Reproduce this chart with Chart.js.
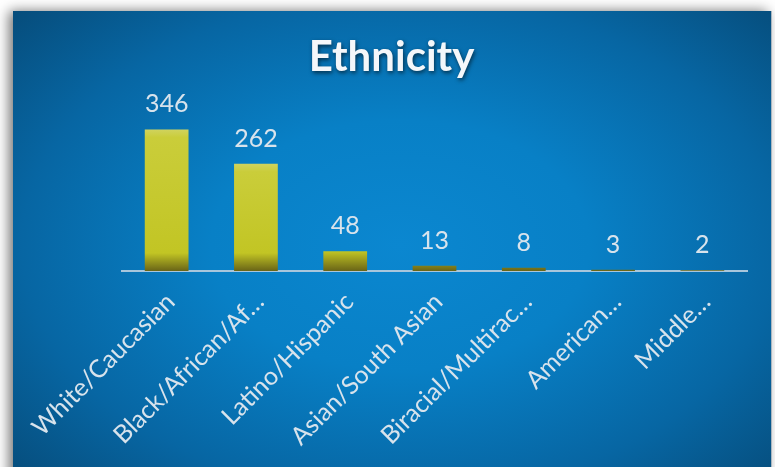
<!DOCTYPE html>
<html>
<head>
<meta charset="utf-8">
<script src="https://cdn.jsdelivr.net/npm/chart.js@4.4.0/dist/chart.umd.min.js"></script>
<style>
html,body{margin:0;padding:0;background:#fff;}
#wrap{width:775px;height:467px;position:relative;}
</style>
</head>
<body>
<div id="wrap"><canvas id="c"></canvas></div>
<script>
const chartTitle = 'Ethnicity';
const categories = ['White/Caucasian','Black/African/African American','Latino/Hispanic','Asian/South Asian','Biracial/Multiracial','American Indian','Middle Eastern'];
const tickLabels = ['White/Caucasian','Black/African/Af\u2026','Latino/Hispanic','Asian/South Asian','Biracial/Multirac\u2026','American\u2026','Middle\u2026'];
const counts = [346, 262, 48, 13, 8, 3, 2];

function barFill(c) {
  const chart = c.chart;
  const ys = chart.scales && chart.scales.y;
  if (!ys || !chart.chartArea || c.type !== 'data') return '#c2c524';
  const top = ys.getPixelForValue(c.raw);
  const base = ys.getPixelForValue(0);
  const h = base - top;
  const gTop = Math.min(top, base - 18);
  const L = base - gTop;
  const g = chart.ctx.createLinearGradient(0, gTop, 0, base);
  if (h >= 26) {
    g.addColorStop(0, '#d0d35e');
    g.addColorStop(8 / L, '#cacd3a');
    g.addColorStop((L - 18) / L, '#c2c524');
    g.addColorStop(1, '#696417');
  } else {
    g.addColorStop(0, '#c2c524');
    g.addColorStop(1, '#696417');
  }
  return g;
}

const panelPlugin = {
  id: 'panel',
  beforeDraw(chart) {
    const ctx = chart.ctx;
    const W = chart.width, H = chart.height;
    ctx.save();
    ctx.fillStyle = '#ffffff';
    ctx.fillRect(0, 0, W, H);
    const x0 = 13, y0 = 11, x1 = 771, y1 = H + 20;
    ctx.shadowColor = 'rgba(0,0,0,0.55)';
    ctx.shadowBlur = 12;
    ctx.shadowOffsetX = -4;
    ctx.shadowOffsetY = 0;
    ctx.fillStyle = '#064a77';
    ctx.fillRect(x0, y0, x1 - x0, y1 - y0);
    ctx.shadowColor = 'transparent';
    ctx.shadowBlur = 0;
    ctx.shadowOffsetX = 0;
    ctx.beginPath();
    ctx.rect(x0, y0, x1 - x0, y1 - y0);
    ctx.clip();
    ctx.translate(400, 245);
    ctx.scale(1, 0.66);
    const g = ctx.createRadialGradient(0, 0, 0, 0, 0, 540);
    g.addColorStop(0, '#0b87d0');
    g.addColorStop(0.35, '#0880c6');
    g.addColorStop(0.7, '#0766a3');
    g.addColorStop(1, '#064a77');
    ctx.fillStyle = g;
    ctx.fillRect(-600, -600, 1200, 1200);
    ctx.restore();
    ctx.save();
    ctx.fillStyle = '#aab6c0';
    ctx.fillRect(771, y0, 1, H);
    ctx.restore();
  }
};

const titleShadowPlugin = {
  id: 'titleShadow',
  afterLayout(chart) {
    const tb = chart.titleBlock;
    if (tb && !tb._shadowPatched) {
      const orig = tb.draw.bind(tb);
      tb.draw = function () {
        const c = this.ctx;
        c.save();
        c.shadowColor = 'rgba(0,0,0,0.6)';
        c.shadowBlur = 4;
        c.shadowOffsetX = 1;
        c.shadowOffsetY = 2;
        orig();
        c.restore();
      };
      tb._shadowPatched = true;
    }
  }
};

const valueLabelPlugin = {
  id: 'valueLabels',
  afterDatasetsDraw(chart) {
    const ctx = chart.ctx;
    const meta = chart.getDatasetMeta(0);
    const data = chart.data.datasets[0].data;
    ctx.save();
    ctx.font = '25px Lato';
    ctx.fillStyle = '#d8e3ec';
    ctx.textAlign = 'center';
    ctx.textBaseline = 'alphabetic';
    meta.data.forEach((el, i) => {
      ctx.fillText(String(data[i]), el.x, el.y - 17);
    });
    ctx.restore();
  }
};

new Chart(document.getElementById('c'), {
  type: 'bar',
  data: {
    labels: tickLabels,
    datasets: [{
      label: chartTitle,
      data: counts,
      backgroundColor: barFill,
      borderWidth: 0,
      barPercentage: 0.49,
      categoryPercentage: 1.0
    }]
  },
  options: {
    responsive: true,
    maintainAspectRatio: false,
    devicePixelRatio: 1,
    animation: false,
    layout: { padding: { left: 8, right: 0, top: 0, bottom: 0 } },
    plugins: {
      legend: { display: false },
      tooltip: { enabled: false },
      title: {
        display: true,
        text: chartTitle,
        color: '#f4f7fa',
        font: { family: 'Lato', size: 42, weight: 'bold', lineHeight: 1.2 },
        padding: { top: 32, bottom: 25 }
      }
    },
    scales: {
      x: {
        grid: { display: false, drawTicks: false },
        border: { display: true, color: '#a8c6dc', width: 2 },
        ticks: {
          color: '#d8e3ec',
          font: { family: 'Lato', size: 25 },
          maxRotation: 45,
          minRotation: 45,
          autoSkip: false,
          padding: 16,
          labelOffset: 4
        },
        afterFit(scale) { scale.height = 196; }
      },
      y: {
        position: 'left',
        min: 0,
        max: 400,
        grid: { display: false, drawTicks: false },
        border: { display: false },
        ticks: { display: false },
        afterFit(scale) { scale.width = 114; }
      },
      yRight: {
        position: 'right',
        min: 0,
        max: 400,
        grid: { display: false, drawTicks: false },
        border: { display: false },
        ticks: { display: false },
        afterFit(scale) { scale.width = 28; }
      }
    }
  },
  plugins: [panelPlugin, titleShadowPlugin, valueLabelPlugin]
});
</script>
</body>
</html>
